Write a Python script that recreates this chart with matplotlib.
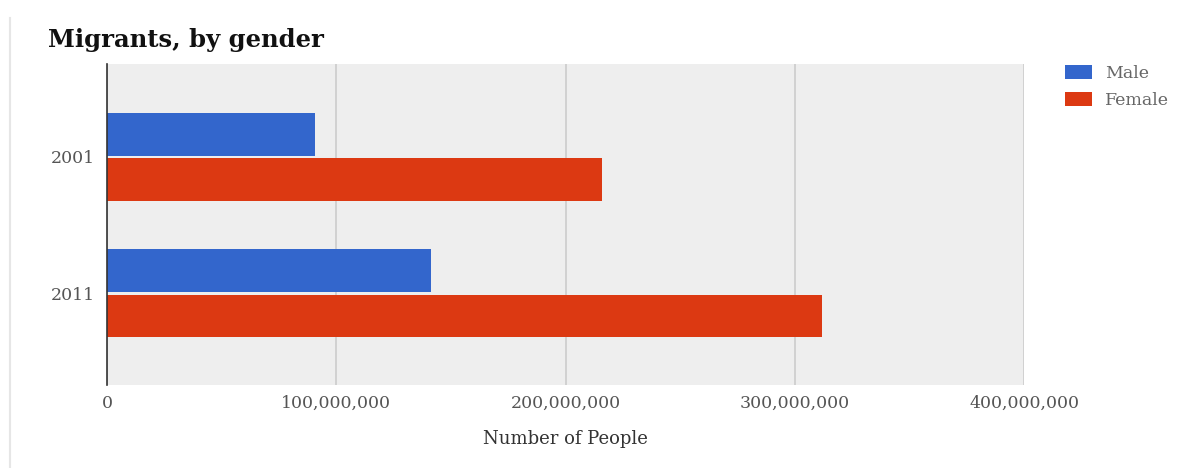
import matplotlib
matplotlib.use("Agg")
import matplotlib.pyplot as plt
import numpy as np
from matplotlib.ticker import FuncFormatter
from matplotlib.lines import Line2D

years = ["2001", "2011"]
male = [90.6e6, 141.3e6]
female = [215.9e6, 311.9e6]
series_names = ["Male", "Female"]
colors = ["#3366cc", "#dc3912"]
xticks = [0, 100e6, 200e6, 300e6, 400e6]

plt.rcParams['font.family'] = ['DejaVu Serif']

fig = plt.figure(figsize=(11.8, 4.68), dpi=100)
ax = fig.add_axes([107/1180, 1-385/468, (1024-107)/1180, (385-64)/468])
ax.set_facecolor("#eeeeee")

y = np.arange(len(years))
h = 0.314
gap = 0.008
ax.barh(y - h/2 - gap, male, height=h, color=colors[0], label=series_names[0], zorder=3)
ax.barh(y + h/2 + gap, female, height=h, color=colors[1], label=series_names[1], zorder=3)

ax.set_ylim(1.67, -0.68)
ax.set_xlim(0, 400e6)
ax.set_yticks(y)
ax.set_yticklabels(years)
ax.set_xticks(xticks)
ax.xaxis.set_major_formatter(FuncFormatter(lambda v, p: f"{int(v):,}"))
ax.grid(axis="x", color="#cccccc", linewidth=1.2, zorder=0)
ax.tick_params(length=0, labelsize=12.5, colors="#555555", pad=7)
ax.tick_params(axis="y", pad=8.5)
for s in ["top", "right", "bottom"]:
    ax.spines[s].set_visible(False)
ax.spines["left"].set_color("#333333")
ax.spines["left"].set_linewidth(1.2)
ax.spines["left"].set_zorder(4)

ax.set_xlabel("Number of People", fontsize=13, color="#333333", labelpad=13)

fig.text(48/1180, 1-40/468, "Migrants, by gender", fontsize=17.5, fontweight="bold",
         color="#111111", va="center", ha="left")

leg = fig.legend(loc="upper left", bbox_to_anchor=(1049/1180, 1-49/468), frameon=False,
                 fontsize=12.5, handlelength=1.55, handleheight=0.85, labelspacing=0.6,
                 handletextpad=0.8)
for t in leg.get_texts():
    t.set_color("#666666")

fig.add_artist(Line2D([10/1180, 10/1180], [0, 1-18/468], color="#e6e6e6", linewidth=1.5))

fig.savefig("out.png", dpi=100)
